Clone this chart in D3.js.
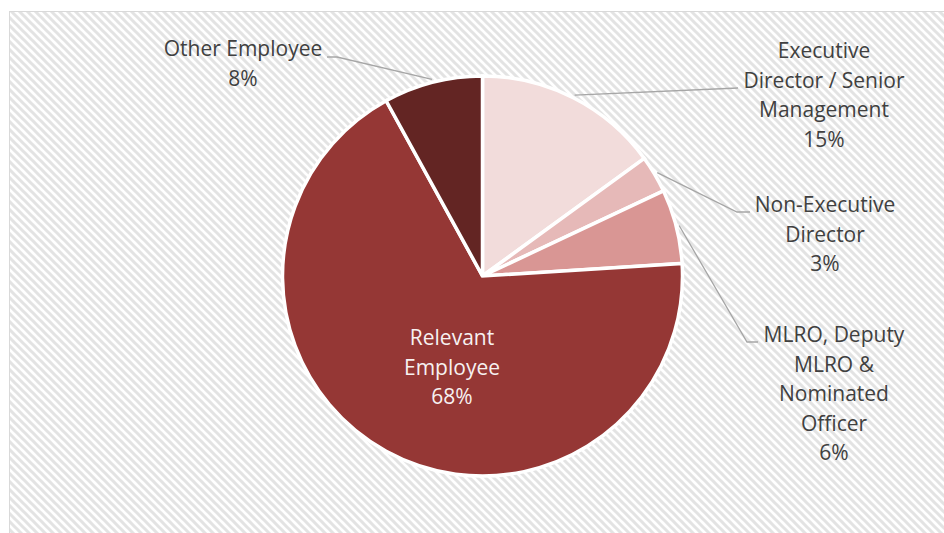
<!DOCTYPE html>
<html>
<head>
<meta charset="utf-8">
<script src="https://cdn.jsdelivr.net/npm/d3@7/dist/d3.min.js"></script>
<style>
  html, body { margin: 0; padding: 0; background: #ffffff; }
  svg { display: block; }
</style>
</head>
<body>
<svg id="chart" width="944" height="533"></svg>
<script>
// Staff categories and their shares (%)
const categories = [
  "Executive Director / Senior Management",
  "Non-Executive Director",
  "MLRO, Deputy MLRO & Nominated Officer",
  "Relevant Employee",
  "Other Employee"
];
const values = [15, 3, 6, 68, 8];
const valueLabels = ["15%", "3%", "6%", "68%", "8%"];
// Label text broken into lines as displayed
const labelLines = [
  ["Executive", "Director / Senior", "Management"],
  ["Non-Executive", "Director"],
  ["MLRO, Deputy", "MLRO &", "Nominated", "Officer"],
  ["Relevant", "Employee"],
  ["Other Employee"]
];
const colors = ["#f2dcdb", "#e6b9b8", "#d99694", "#953735", "#632523"];

const svg = d3.select("#chart");
const W = 944, H = 533;
const cx = 482.5, cy = 276, R = 200;

// Hatched chart-area background
const defs = svg.append("defs");
const pat = defs.append("pattern")
  .attr("id", "hatch")
  .attr("patternUnits", "userSpaceOnUse")
  .attr("width", 8).attr("height", 8);
pat.append("rect").attr("width", 8).attr("height", 8).attr("fill", "#ffffff");
pat.append("path")
  .attr("d", "M-2,-2 L10,10 M-2,6 L2,10 M6,-2 L10,2")
  .attr("stroke", "#e3e3e3").attr("stroke-width", 3);

svg.append("rect")
  .attr("x", 9.5).attr("y", 11.5)
  .attr("width", W).attr("height", H)
  .attr("fill", "url(#hatch)")
  .attr("stroke", "#d9d9d9").attr("stroke-width", 1);

const data = categories.map((c, i) => ({ name: c, value: values[i], label: valueLabels[i], lines: labelLines[i], color: colors[i] }));

const pie = d3.pie().sort(null).value(d => d.value).startAngle(0).endAngle(2 * Math.PI);
const arcs = pie(data);
const arc = d3.arc().innerRadius(0).outerRadius(R);

const g = svg.append("g").attr("transform", `translate(${cx},${cy})`);
g.selectAll("path.slice")
  .data(arcs)
  .join("path")
  .attr("class", "slice")
  .attr("d", arc)
  .attr("fill", d => d.data.color)
  .attr("stroke", "#ffffff")
  .attr("stroke-width", 3.5)
  .attr("stroke-linejoin", "miter");

// Label placement (text centre x, first line centre y) and leader elbow
const font = "'Open Sans', Lato, sans-serif";
const lineH = 29.4;
const labelLayout = [
  { x: 824, y: 51, elbow: [738, 88], tail: null },
  { x: 825, y: 205, elbow: [737, 212], tail: [750, 212] },
  { x: 834, y: 335, elbow: [747, 342], tail: [758, 342] },
  { x: 452, y: 338, elbow: null, tail: null },
  { x: 243, y: 49, elbow: [337, 57], tail: [327, 57] }
];

const pointAt = (a, r) => [cx + r * Math.sin(a), cy - r * Math.cos(a)];

arcs.forEach((a, i) => {
  const L = labelLayout[i];
  const mid = (a.startAngle + a.endAngle) / 2;
  if (L.elbow) {
    const p0 = pointAt(mid, R + 3);
    const pts = [p0, L.elbow];
    if (L.tail) pts.push(L.tail);
    svg.append("path")
      .attr("d", d3.line()(pts))
      .attr("fill", "none")
      .attr("stroke", "#a6a6a6")
      .attr("stroke-width", 1.3);
  }
  const inside = !L.elbow;
  const lines = a.data.lines.concat([a.data.label]);
  const t = svg.append("text")
    .attr("font-family", font)
    .attr("font-size", 21)
    .attr("fill", inside ? "#f7f1f1" : "#404040")
    .attr("text-anchor", "middle");
  lines.forEach((s, k) => {
    t.append("tspan")
      .attr("x", L.x)
      .attr("y", L.y + k * lineH)
      .attr("dy", "0.35em")
      .text(s);
  });
});
</script>
</body>
</html>
